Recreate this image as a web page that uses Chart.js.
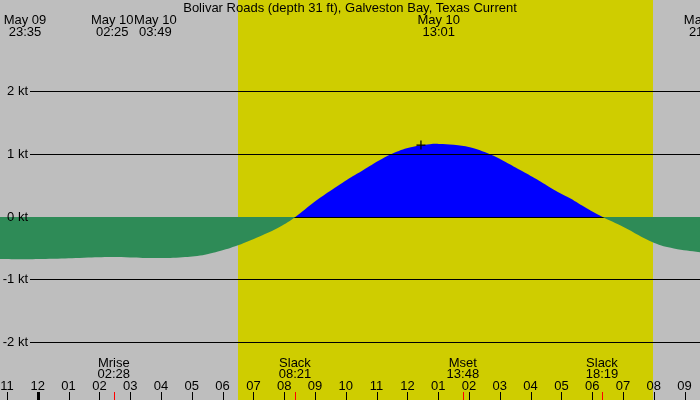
<!DOCTYPE html>
<html>
<head>
<meta charset="utf-8">
<title>Bolivar Roads current</title>
<script src="https://cdn.jsdelivr.net/npm/chart.js@4"></script>
<style>
  html, body { margin: 0; padding: 0; background: #bebebe; }
  #wrap { width: 700px; height: 400px; }
</style>
</head>
<body>
<div id="wrap"><canvas id="tideChart"></canvas></div>
<script>

// CURRENT DATA (hours from May 10 00:00, speed in knots)

const hours = [-1.23, -0.42, 0.5, 1.5, 2.42, 3.0, 3.82, 4.6, 5.27, 5.85, 6.5, 7.2, 7.85, 8.36,
  8.945, 9.49, 10.03, 10.57, 11.11, 11.65, 12.19, 12.73, 13.02, 13.5, 14.03, 14.68, 15.11, 15.66,
  16.2, 16.74, 17.28, 17.82, 18.34, 19.0, 20.0, 20.65, 21.5];
const knots = [-0.668, -0.672, -0.665, -0.648, -0.637, -0.645, -0.655, -0.645, -0.615, -0.55, -0.45, -0.31, -0.16, 0,
  0.228, 0.414, 0.59, 0.749, 0.908, 1.04, 1.12, 1.16, 1.165, 1.15, 1.11, 1.0, 0.897, 0.749,
  0.60, 0.44, 0.298, 0.139, 0, -0.155, -0.41, -0.50, -0.56];

// the little "+" mark on the flood
const markHour = [12.44];
const markKnots = [1.147];

// AXIS / LABEL DATA

const levels = [2, 1, 0, -1, -2];
const levelLabels = ["2 kt", "1 kt", "0 kt", "-1 kt", "-2 kt"];

const hourTicks = [-1, 0, 1, 2, 3, 4, 5, 6, 7, 8, 9, 10, 11, 12, 13, 14, 15, 16, 17, 18, 19, 20, 21];
const hourLabels = ["11", "12", "01", "02", "03", "04", "05", "06", "07", "08", "09", "10",
  "11", "12", "01", "02", "03", "04", "05", "06", "07", "08", "09"];

const topHours = [-0.417, 2.417, 3.817, 13.017, 21.667];
const topDates = ["May 09", "May 10", "May 10", "May 10", "May 10"];
const topTimes = ["23:35", "02:25", "03:49", "13:01", "21:40"];

const eventHours = [2.467, 8.35, 13.8, 18.317];
const eventNames = ["Mrise", "Slack", "Mset", "Slack"];
const eventTimes = ["02:28", "08:21", "13:48", "18:19"];

const sunrise = 6.5;
const sunset = 19.98;

const title = "Bolivar Roads (depth 31 ft), Galveston Bay, Texas Current";

const nightColor = "#bebebe";
const dayColor = "#cfcd00";
const FONT = "13px 'Liberation Sans', Arial, sans-serif";


// BACKGROUND, LINES AND TEXT

const tidePlugin = {
  id: "tidePlugin",

  beforeDraw(chart) {
    const ctx = chart.ctx;
    const x = chart.scales.x;
    ctx.save();
    ctx.fillStyle = nightColor;
    ctx.fillRect(0, 0, chart.width, chart.height);
    const x1 = x.getPixelForValue(sunrise);
    const x2 = x.getPixelForValue(sunset);
    ctx.fillStyle = dayColor;
    ctx.fillRect(Math.round(x1), 0, Math.round(x2) - Math.round(x1), chart.height);
    ctx.restore();
  },

  // zero line sits under the fill
  beforeDatasetsDraw(chart) {
    drawLevel(chart, 0);
  },

  afterDatasetsDraw(chart) {
    const ctx = chart.ctx;
    const x = chart.scales.x;
    const y = chart.scales.y;

    levels.forEach(v => { if (v !== 0) drawLevel(chart, v); });

    ctx.save();
    ctx.font = FONT;
    ctx.fillStyle = "#000";

    // level labels
    ctx.textAlign = "right";
    ctx.textBaseline = "middle";
    levels.forEach((v, i) => {
      ctx.fillText(levelLabels[i], 28, y.getPixelForValue(v));
    });

    ctx.textBaseline = "alphabetic";
    ctx.textAlign = "center";

    // title
    ctx.fillText(title, 350, 12);

    // top events
    topHours.forEach((h, i) => {
      const px = x.getPixelForValue(h);
      ctx.fillText(topDates[i], px, 24);
      ctx.fillText(topTimes[i], px, 36);
    });

    // bottom events
    eventHours.forEach((h, i) => {
      const px = x.getPixelForValue(h);
      ctx.fillText(eventNames[i], px, 367);
      ctx.fillText(eventTimes[i], px, 378);
    });

    // hour labels and ticks
    hourTicks.forEach((h, i) => {
      const px = x.getPixelForValue(h);
      ctx.fillText(hourLabels[i], px, 390);
      if (h === 0) {
        ctx.fillRect(Math.round(px) - 1, 392, 3, 8);
      } else {
        ctx.fillRect(Math.round(px), 392, 1, 8);
      }
    });

    // red ticks for events
    ctx.fillStyle = "#ff0000";
    eventHours.forEach(h => {
      ctx.fillRect(Math.round(x.getPixelForValue(h)), 392, 1, 8);
    });

    ctx.restore();
  }
};

function drawLevel(chart, v) {
  const ctx = chart.ctx;
  const py = Math.floor(chart.scales.y.getPixelForValue(v) + 1e-6) + 0.5;
  ctx.save();
  ctx.strokeStyle = "#000";
  ctx.lineWidth = 1;
  ctx.beginPath();
  ctx.moveTo(30, py);
  ctx.lineTo(chart.width, py);
  ctx.stroke();
  ctx.restore();
}


// CHART

const tideChart = new Chart(
  document.getElementById("tideChart"),
  {
    type: "line",
    data: {
      datasets: [
        {
          type: "scatter",
          data: markHour.map((h, i) => ({ x: h, y: markKnots[i] })),
          pointStyle: "cross",
          pointRadius: 4.5,
          borderColor: "#000",
          borderWidth: 1.2,
          clip: false,
          order: 0
        },
        {
          data: hours.map((h, i) => ({ x: h, y: knots[i] })),
          borderWidth: 0,
          pointRadius: 0,
          tension: 0.4,
          fill: {
            target: { value: 0 },
            above: "#0000ff",
            below: "#2e8b57"
          },
          order: 1
        }
      ]
    },
    options: {
      responsive: true,
      maintainAspectRatio: false,
      animation: false,
      devicePixelRatio: 1,
      layout: { padding: 0, autoPadding: false },
      plugins: {
        legend: { display: false },
        tooltip: { enabled: false }
      },
      scales: {
        x: {
          type: "linear",
          display: false,
          min: -37.8 / 30.8,
          max: (700 - 37.8) / 30.8
        },
        y: {
          display: false,
          min: -183 / 62.75,
          max: 217 / 62.75
        }
      }
    },
    plugins: [tidePlugin]
  }
);

</script>
</body>
</html>
